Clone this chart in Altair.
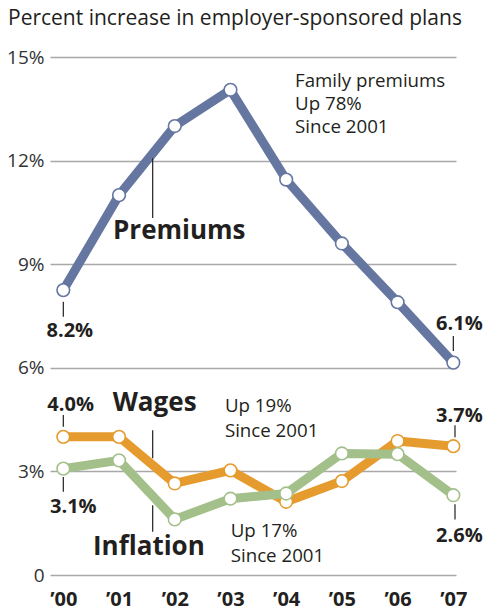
import altair as alt
import pandas as pd

# ---- data ----
years = [2000, 2001, 2002, 2003, 2004, 2005, 2006, 2007]
premiums = [8.25, 11.0, 13.0, 14.05, 11.45, 9.6, 7.9, 6.15]
wages = [4.0, 4.0, 2.65, 3.03, 2.12, 2.72, 3.88, 3.73]
inflation = [3.08, 3.32, 1.61, 2.21, 2.36, 3.52, 3.5, 2.31]

y_ticks = [0, 3, 6, 9, 12, 15]
title_text = "Percent increase in employer-sponsored plans"

# annotation texts (label, x in years, y in percent, kind)
ann_text = ["Premiums", "Wages", "Inflation",
            "8.2%", "6.1%", "4.0%", "3.1%", "3.7%", "2.6%",
            "Up 19%", "Since 2001", "Up 17%", "Since 2001",
            "Family premiums", "Up 78%", "Since 2001"]
ann_x = [2000.892, 2000.887, 2000.533,
         1999.698, 2006.69, 1999.713, 1999.761, 2006.69, 2006.69,
         2002.90, 2002.90, 2003.005, 2003.005,
         2004.159, 2004.159, 2004.159]
ann_y = [9.72, 4.75, 0.571,
         6.89, 7.09, 4.76, 1.80, 4.43, 0.956,
         4.72, 4.00, 1.10, 0.377,
         14.14, 13.47, 12.79]
ann_kind = ["big", "big", "big",
            "value", "value", "value", "value", "value", "value",
            "note", "note", "note", "note",
            "note", "note", "note"]

# leader lines (x, y top, y bottom)
lead_x = [2001.604, 2001.604, 2001.604, 2000.0, 2007.0, 2000.0, 2000.0, 2007.03, 2007.03]
lead_y1 = [12.07, 4.19, 2.02, 7.91, 6.92, 4.63, 2.84, 4.34, 2.05]
lead_y2 = [10.34, 3.38, 1.25, 7.48, 6.49, 4.29, 2.41, 3.99, 1.61]

FONT = "Open Sans"
TEXT_COLOR = "#231f20"
C_PREM = "#6576a0"
C_WAGE = "#e59b2d"
C_INFL = "#a3c08a"

x_scale = alt.Scale(domain=[1999.761, 2007.048], nice=False, zero=False)
y_scale = alt.Scale(domain=[0, 15], nice=False)

x_axis = alt.Axis(values=years, title=None, grid=False, domain=False, ticks=False,
                  tickSize=0, labelExpr="'\u2019' + slice(toString(datum.value), 2)",
                  labelFont=FONT, labelFontWeight="bold", labelFontSize=20,
                  labelColor=TEXT_COLOR, labelPadding=14)
y_axis = alt.Axis(values=y_ticks, title=None, grid=True, gridColor="#a8a8a8",
                  gridWidth=1.3, domain=False, ticks=False, tickSize=0,
                  labelExpr="datum.value == 0 ? '0' : datum.value + '%'",
                  labelFont=FONT, labelFontSize=19, labelColor="#333333",
                  labelPadding=6)


def X(field):
    return alt.X(f"{field}:Q", scale=x_scale, axis=x_axis)


def Y(field):
    return alt.Y(f"{field}:Q", scale=y_scale, axis=y_axis)


def series(values, color):
    df = pd.DataFrame({"year": years, "value": values})
    base = alt.Chart(df)
    line = base.mark_line(color=color, strokeWidth=9, strokeJoin="round").encode(
        x=X("year"), y=Y("value"))
    pts = base.mark_point(filled=True, fill="white", stroke=color, strokeWidth=1.6,
                          size=160, opacity=1).encode(x=X("year"), y=Y("value"))
    return line + pts


ann_df = pd.DataFrame({"t": ann_text, "x": ann_x, "y": ann_y, "k": ann_kind})
lead_df = pd.DataFrame({"x": lead_x, "y": lead_y1, "y2": lead_y2})

leaders = alt.Chart(lead_df).mark_rule(color=TEXT_COLOR, strokeWidth=1.2).encode(
    x=X("x"), y=Y("y"), y2="y2:Q")

big = alt.Chart(ann_df).transform_filter("datum.k == 'big'").mark_text(
    align="left", baseline="alphabetic", font=FONT, fontWeight="bold",
    fontSize=26, color=TEXT_COLOR).encode(x=X("x"), y=Y("y"), text="t:N")
vals = alt.Chart(ann_df).transform_filter("datum.k == 'value'").mark_text(
    align="left", baseline="alphabetic", font=FONT, fontWeight="bold",
    fontSize=20, color=TEXT_COLOR).encode(x=X("x"), y=Y("y"), text="t:N")
notes = alt.Chart(ann_df).transform_filter("datum.k == 'note'").mark_text(
    align="left", baseline="alphabetic", font=FONT, fontSize=18.7,
    color=TEXT_COLOR).encode(x=X("x"), y=Y("y"), text="t:N")

title = alt.Chart(pd.DataFrame({"t": [title_text]})).mark_text(
    align="left", baseline="alphabetic", font=FONT, fontSize=21,
    color=TEXT_COLOR).encode(x=alt.value(-42), y=alt.value(-32), text="t:N")

chart = alt.layer(
    series(premiums, C_PREM),
    leaders,
    series(wages, C_WAGE),
    series(inflation, C_INFL),
    big, vals, notes, title,
).properties(
    width=406, height=518,
    padding={"left": 42, "top": 49, "right": 28, "bottom": 35},
    autosize=alt.AutoSizeParams(type="none"),
    background="white",
).configure_view(stroke=None)

chart.save("out.html", embed_options={"renderer": "svg", "actions": False})
